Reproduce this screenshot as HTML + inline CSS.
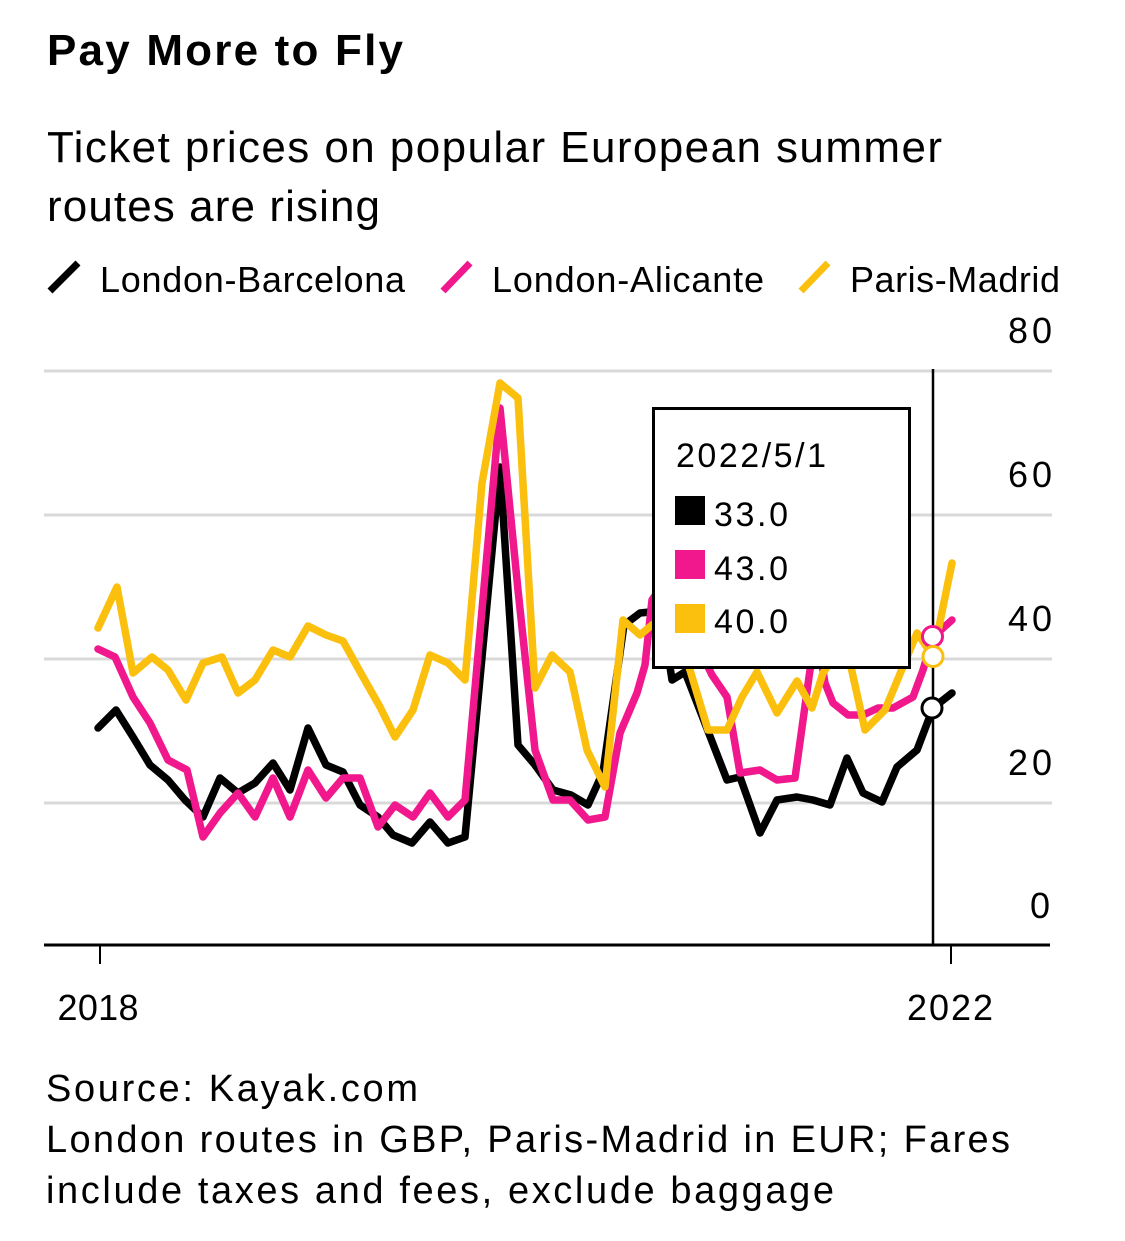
<!DOCTYPE html>
<html>
<head>
<meta charset="utf-8">
<style>
  html, body { margin: 0; padding: 0; background: #ffffff; }
  svg { display: block; }
  text { font-family: "Liberation Sans", Arial, sans-serif; fill: #000; }
</style>
</head>
<body>
<svg width="1125" height="1241" viewBox="0 0 1125 1241" xmlns="http://www.w3.org/2000/svg">
  <rect x="0" y="0" width="1125" height="1241" fill="#ffffff"/>

  <!-- Title -->
  <text x="47" y="65" font-size="44" font-weight="bold" textLength="356" lengthAdjust="spacing">Pay More to Fly</text>

  <!-- Subtitle -->
  <text x="47" y="162" font-size="44" textLength="895" lengthAdjust="spacing">Ticket prices on popular European summer</text>
  <text x="47" y="221" font-size="44" textLength="333" lengthAdjust="spacing">routes are rising</text>

  <!-- Legend -->
  <line x1="50" y1="291" x2="78" y2="263" stroke="#000000" stroke-width="7"/>
  <text x="100" y="292" font-size="36" textLength="305" lengthAdjust="spacing">London-Barcelona</text>
  <line x1="443" y1="291" x2="470" y2="263" stroke="#f0188c" stroke-width="7"/>
  <text x="492" y="292" font-size="36" textLength="272" lengthAdjust="spacing">London-Alicante</text>
  <line x1="801" y1="291" x2="828" y2="263" stroke="#fbbf0e" stroke-width="7"/>
  <text x="850" y="292" font-size="36" textLength="210" lengthAdjust="spacing">Paris-Madrid</text>

  <!-- Gridlines -->
  <g stroke="#d9d9d9" stroke-width="3">
    <line x1="44" y1="371" x2="1052" y2="371"/>
    <line x1="44" y1="515" x2="1052" y2="515"/>
    <line x1="44" y1="659" x2="1052" y2="659"/>
    <line x1="44" y1="803" x2="1052" y2="803"/>
  </g>

  <!-- Y labels -->
  <g font-size="36" text-anchor="end">
    <text x="1052" y="343" textLength="44" lengthAdjust="spacing">80</text>
    <text x="1052" y="487" textLength="44" lengthAdjust="spacing">60</text>
    <text x="1052" y="631" textLength="44" lengthAdjust="spacing">40</text>
    <text x="1052" y="775" textLength="44" lengthAdjust="spacing">20</text>
    <text x="1050" y="918">0</text>
  </g>

  <!-- Series: London-Barcelona (black) -->
  <polyline fill="none" stroke="#000000" stroke-width="7.5" stroke-linejoin="round" stroke-linecap="round"
    points="98,728 116,710 133,737 150,765 168,780 185,800 203,817 220,778 238,793 255,783 273,763 290,790 308,728 326,765 343,772 360,805 378,817 393,835 412,843 430,822 448,843 465,837 500,467 518,745 535,765 553,790 571,795 588,805 603,772 624,625 640,613 650,612 662,614 672,680 685,672 727,780 740,777 760,833 777,800 797,797 813,800 830,805 847,758 863,793 882,802 897,767 917,750 933,708 952,693"/>

  <!-- Series: London-Alicante (pink) -->
  <polyline fill="none" stroke="#f0188c" stroke-width="7.5" stroke-linejoin="round" stroke-linecap="round"
    points="98,649 115,657 133,697 150,723 168,760 187,770 203,837 220,813 238,793 255,817 273,778 290,817 308,770 326,798 343,778 360,778 378,827 395,805 413,817 430,793 448,817 465,800 482,610 500,408 518,590 535,750 553,800 570,800 588,820 605,817 620,733 637,693 645,665 652,600 670,575 690,630 712,675 727,697 740,773 760,770 777,780 795,778 810,670 818,640 825,683 833,703 848,715 863,715 878,708 893,708 913,697 923,670 933,637 952,620"/>

  <!-- Series: Paris-Madrid (yellow) -->
  <polyline fill="none" stroke="#fbbf0e" stroke-width="7.5" stroke-linejoin="round" stroke-linecap="round"
    points="98,628 117,587 133,673 152,657 168,670 186,700 203,663 222,657 238,693 255,680 273,650 290,657 308,626 326,635 343,641 363,677 380,707 395,737 413,710 430,655 448,663 465,680 482,483 500,383 518,398 535,688 552,655 570,672 587,750 605,787 623,620 640,635 652,625 668,615 690,670 708,730 727,730 742,697 757,672 777,713 797,681 812,708 823,673 845,640 865,730 885,710 907,657 917,633 933,656 952,563"/>

  <!-- X axis -->
  <line x1="44" y1="945" x2="1050" y2="945" stroke="#000" stroke-width="3"/>
  <line x1="100" y1="945" x2="100" y2="964" stroke="#000" stroke-width="2"/>
  <line x1="951" y1="945" x2="951" y2="964" stroke="#000" stroke-width="2"/>
  <text x="98" y="1020" font-size="36" text-anchor="middle" textLength="81" lengthAdjust="spacing">2018</text>
  <text x="950" y="1020" font-size="36" text-anchor="middle" textLength="86" lengthAdjust="spacing">2022</text>

  <!-- Hover line -->
  <line x1="933" y1="369" x2="933" y2="945" stroke="#000" stroke-width="2.5"/>

  <!-- Hover markers -->
  <circle cx="932.5" cy="636.5" r="10" fill="#ffffff" stroke="#f0188c" stroke-width="3"/>
  <circle cx="933" cy="656.5" r="10" fill="#ffffff" stroke="#fbbf0e" stroke-width="3"/>
  <circle cx="932" cy="708" r="10" fill="#ffffff" stroke="#000000" stroke-width="3"/>

  <!-- Tooltip -->
  <rect x="653.5" y="408.5" width="256" height="259" fill="#ffffff" stroke="#000" stroke-width="3"/>
  <text x="676" y="467" font-size="34" textLength="150" lengthAdjust="spacing">2022/5/1</text>
  <rect x="675" y="496" width="30" height="29" fill="#000000"/>
  <text x="714" y="526" font-size="34" textLength="74" lengthAdjust="spacing">33.0</text>
  <rect x="675" y="550" width="30" height="29" fill="#f0188c"/>
  <text x="714" y="580" font-size="34" textLength="74" lengthAdjust="spacing">43.0</text>
  <rect x="675" y="604" width="30" height="29" fill="#fbbf0e"/>
  <text x="714" y="633" font-size="34" textLength="74" lengthAdjust="spacing">40.0</text>

  <!-- Footer -->
  <text x="46" y="1101" font-size="38" textLength="372" lengthAdjust="spacing">Source: Kayak.com</text>
  <text x="46" y="1152" font-size="38" textLength="964" lengthAdjust="spacing">London routes in GBP, Paris-Madrid in EUR; Fares</text>
  <text x="46" y="1203" font-size="38" textLength="788" lengthAdjust="spacing">include taxes and fees, exclude baggage</text>
</svg>
</body>
</html>
